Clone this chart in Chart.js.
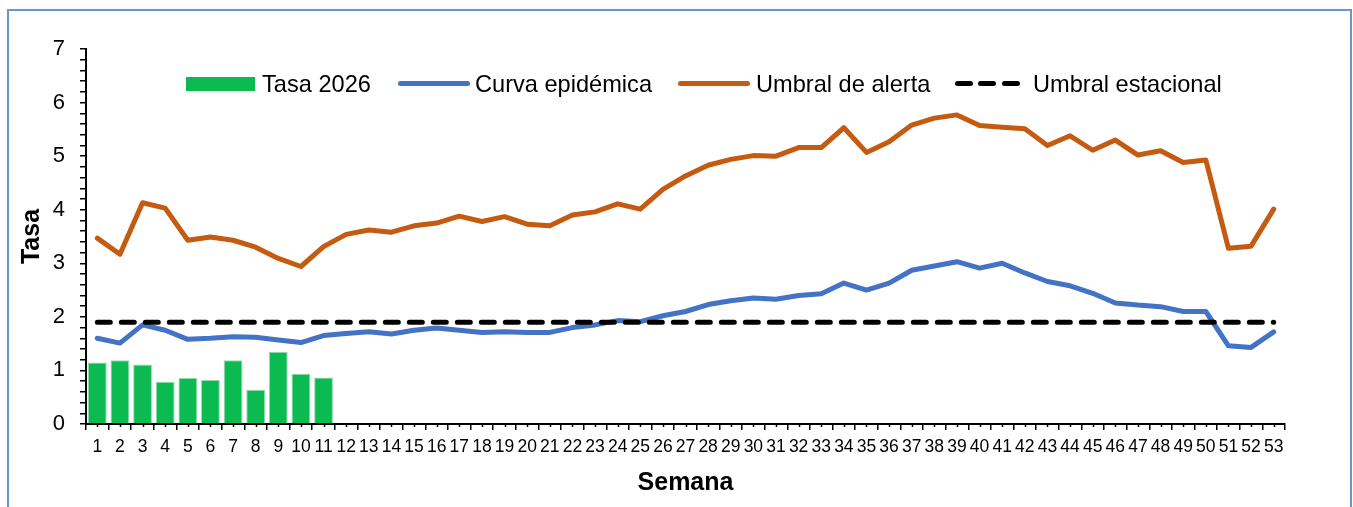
<!DOCTYPE html>
<html>
<head>
<meta charset="utf-8">
<script src="https://cdn.jsdelivr.net/npm/chart.js@4.4.1/dist/chart.umd.min.js"></script>
<style>
  html, body { margin: 0; padding: 0; background: #fff; }
  #wrap { position: relative; width: 1353px; height: 507px; overflow: hidden; font-family: "Liberation Sans", Arial, sans-serif; }
  #frame { position: absolute; left: 7px; top: 9px; width: 1345px; height: 520px; border: 2px solid #6b94d6; box-sizing: border-box; }
  canvas { position: absolute; left: 0; top: 0; }
  .lg { position: absolute; font-size: 23.6px; line-height: 24px; top: 72px; color: #000; white-space: nowrap; }
  .sw { position: absolute; }
</style>
</head>
<body>
<div id="wrap">
  <div id="frame"></div>
  <canvas id="c" width="1353" height="507"></canvas>
  <div class="sw" style="left:186px;top:77px;width:69px;height:14px;background:#0cba52;"></div>
  <div class="lg" style="left:262px;">Tasa 2026</div>
  <div class="sw" style="left:398px;top:81px;width:72px;height:5px;border-radius:3px;background:#4472c4;"></div>
  <div class="lg" style="left:475px;">Curva epidémica</div>
  <div class="sw" style="left:678px;top:81px;width:72px;height:5px;border-radius:3px;background:#c55a11;"></div>
  <div class="lg" style="left:756px;">Umbral de alerta</div>
  <div class="sw" style="left:955px;top:81px;width:18px;height:5px;border-radius:3px;background:#000;"></div>
  <div class="sw" style="left:978px;top:81px;width:18px;height:5px;border-radius:3px;background:#000;"></div>
  <div class="sw" style="left:1002px;top:81px;width:18px;height:5px;border-radius:3px;background:#000;"></div>
  <div class="lg" style="left:1033px;">Umbral estacional</div>
</div>
<script>
const semanas = Array.from({length: 53}, (_, i) => String(i + 1));
const tasa2026 = [1.15, 1.19, 1.11, 0.79, 0.86, 0.82, 1.19, 0.64, 1.35, 0.94, 0.87];
const curvaEpidemica = [1.60, 1.51, 1.85, 1.75, 1.58, 1.60, 1.63, 1.62, 1.57, 1.52,
  1.65, 1.69, 1.72, 1.68, 1.75, 1.79, 1.75, 1.71, 1.72, 1.71,
  1.71, 1.80, 1.85, 1.93, 1.91, 2.02, 2.10, 2.23, 2.30, 2.35,
  2.33, 2.40, 2.43, 2.63, 2.50, 2.63, 2.87, 2.95, 3.03, 2.91,
  3.00, 2.82, 2.66, 2.58, 2.44, 2.26, 2.22, 2.19, 2.10, 2.10,
  1.46, 1.43, 1.72];
const umbralAlerta = [3.47, 3.17, 4.13, 4.03, 3.43, 3.49, 3.43, 3.30, 3.09, 2.94,
  3.31, 3.54, 3.62, 3.58, 3.70, 3.75, 3.88, 3.78, 3.87, 3.73,
  3.70, 3.90, 3.96, 4.11, 4.01, 4.38, 4.63, 4.83, 4.94, 5.01,
  5.00, 5.16, 5.16, 5.53, 5.07, 5.27, 5.58, 5.71, 5.77, 5.57,
  5.54, 5.51, 5.20, 5.38, 5.11, 5.30, 5.02, 5.10, 4.88, 4.93,
  3.28, 3.32, 4.01];
const umbralEstacionalValor = 1.9;
const umbralEstacional = semanas.map(() => umbralEstacionalValor);
const yTickLabels = [0, 1, 2, 3, 4, 5, 6, 7];

const FONT = "'Liberation Sans', Arial, sans-serif";

const minorTicks = {
  id: 'minorTicks',
  afterDraw(chart) {
    const x = chart.scales.x;
    const ctx = chart.ctx;
    ctx.save();
    ctx.strokeStyle = '#000';
    ctx.lineWidth = 1.5;
    for (let i = 0; i < semanas.length; i++) {
      const px = Math.round(x.getPixelForValue(i)) + 0.5;
      ctx.beginPath();
      ctx.moveTo(px, x.top);
      ctx.lineTo(px, x.top + 3);
      ctx.stroke();
    }
    ctx.restore();
  }
};

new Chart(document.getElementById('c'), {
  data: {
    labels: semanas,
    datasets: [
      { type: 'bar', label: 'Tasa 2026', data: tasa2026, backgroundColor: '#0cba52',
        borderColor: '#8fdcae', borderWidth: 1, barPercentage: 0.83, categoryPercentage: 1, order: 4 },
      { type: 'line', label: 'Curva epidémica', data: curvaEpidemica, borderColor: '#4472c4',
        borderWidth: 5, pointRadius: 0, tension: 0, borderJoinStyle: 'round', borderCapStyle: 'round', order: 3 },
      { type: 'line', label: 'Umbral de alerta', data: umbralAlerta, borderColor: '#c55a11',
        borderWidth: 5, pointRadius: 0, tension: 0, borderJoinStyle: 'round', borderCapStyle: 'round', order: 2 },
      { type: 'line', label: 'Umbral estacional', data: umbralEstacional, borderColor: '#000',
        borderWidth: 5, borderDash: [13, 11], borderCapStyle: 'round', pointRadius: 0, order: 1 }
    ]
  },
  options: {
    responsive: false,
    animation: false,
    layout: { padding: { left: 0, top: 49, right: 68, bottom: 0 } },
    plugins: { legend: { display: false }, tooltip: { enabled: false } },
    scales: {
      x: {
        type: 'category',
        offset: true,
        grid: { display: true, offset: true, drawOnChartArea: false, drawTicks: true, tickLength: 6, color: '#000', lineWidth: 1.5 },
        border: { display: true, color: '#000', width: 2 },
        ticks: { autoSkip: false, maxRotation: 0, minRotation: 0, padding: 7, color: '#000', font: { family: FONT, size: 17.5 } },
        title: { display: true, text: 'Semana', color: '#000', font: { family: FONT, size: 25, weight: 'bold' }, padding: { top: 0, bottom: 9 } },
        afterFit(s) { s.height = 83; }
      },
      y: {
        min: yTickLabels[0],
        max: yTickLabels[yTickLabels.length - 1],
        grid: { display: true, drawOnChartArea: false, drawTicks: true, tickLength: 6, color: '#000', lineWidth: 1.5 },
        border: { display: true, color: '#000', width: 2 },
        ticks: {
          stepSize: 0.2, autoSkip: false, padding: 15, color: '#000', font: { family: FONT, size: 22 },
          callback(v) { const r = Math.round(v); return Math.abs(v - r) < 1e-6 && yTickLabels.includes(r) ? String(r) : ''; }
        },
        title: { display: true, text: 'Tasa', color: '#000', font: { family: FONT, size: 25, weight: 'bold' }, padding: { top: 17, bottom: 0 } },
        afterFit(s) { s.width = 86; }
      }
    }
  },
  plugins: [minorTicks]
});
</script>
</body>
</html>
